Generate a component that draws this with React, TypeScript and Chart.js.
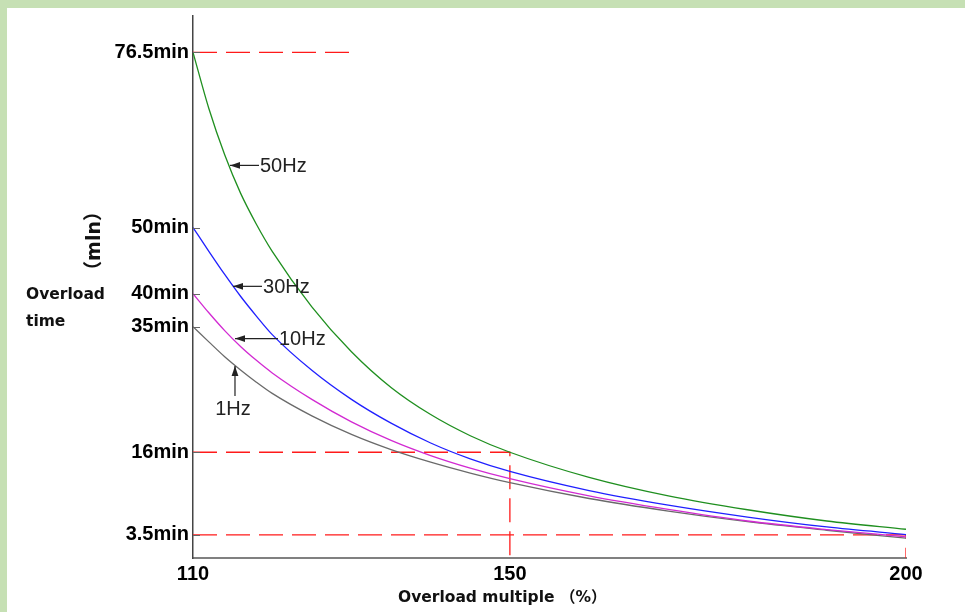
import React, { useEffect, useRef } from 'react';
import { Chart, registerables } from 'chart.js';

Chart.register(...registerables);

// ---- data ----
const overloadPct = [110, 112, 114, 116, 118, 120, 125, 130, 135, 140, 145, 150, 160, 170, 180, 190, 200];
const hz50 = [76.5, 68.0, 61.0, 55.2, 50.5, 46.4, 38.0, 31.2, 25.8, 21.7, 18.5, 16.0, 12.2, 9.4, 7.3, 5.6, 4.35];
const hz30 = [50, 46.4, 42.9, 39.6, 36.6, 33.8, 28.4, 24.0, 20.4, 17.4, 15.0, 13.1, 10.2, 8.0, 6.2, 4.7, 3.55];
const hz10 = [40, 37.1, 34.4, 32.0, 29.9, 28.0, 24.0, 20.6, 17.8, 15.5, 13.6, 12.0, 9.4, 7.35, 5.6, 4.3, 3.2];
const hz1 = [35, 32.7, 30.45, 28.45, 26.6, 24.9, 21.5, 18.7, 16.4, 14.5, 12.85, 11.4, 9.0, 7.1, 5.5, 4.2, 3.0];

const seriesNames = ['50Hz', '30Hz', '10Hz', '1Hz'];
const seriesColors = ['#1f8f1f', '#2020ff', '#d22ad2', '#6a6a6a'];

const yTicks = [3.5, 16, 35, 40, 50, 76.5];
const xTicks = [110, 150, 200];

// dashed reference lines: level, x where it ends, whether it drops to the axis
const refLevels = [76.5, 16, 3.5];
const refEnds = [130, 150, 200];
const refDrops = [false, true, true];

// annotation arrows: tip point (data units)
const annoX = [114.67, 115.05, 115.3, 115.3];
const annoY = [59.4, 41.1, 33.2, 29.2];

const SANS = '"Liberation Sans", Arial, sans-serif';
const TITLE = '"DejaVu Sans", "Noto Sans CJK SC", sans-serif';

function drawArrow(ctx: CanvasRenderingContext2D, tx: number, ty: number, hx: number, hy: number) {
  ctx.beginPath();
  ctx.moveTo(tx, ty);
  ctx.lineTo(hx, hy);
  ctx.stroke();
  const ang = Math.atan2(hy - ty, hx - tx);
  const len = 10;
  const w = 3.4;
  ctx.beginPath();
  ctx.moveTo(hx, hy);
  ctx.lineTo(hx - len * Math.cos(ang) + w * Math.sin(ang), hy - len * Math.sin(ang) - w * Math.cos(ang));
  ctx.lineTo(hx - len * Math.cos(ang) - w * Math.sin(ang), hy - len * Math.sin(ang) + w * Math.cos(ang));
  ctx.closePath();
  ctx.fill();
}

const decor = {
  id: 'decor',
  beforeDraw(chart: any) {
    const { ctx, width, height } = chart;
    ctx.save();
    ctx.fillStyle = '#c6e0b4';
    ctx.fillRect(0, 0, width, height);
    ctx.fillStyle = '#ffffff';
    ctx.fillRect(7, 8, width - 7, height - 8);
    ctx.restore();
  },
  afterDraw(chart: any) {
    const { ctx, chartArea } = chart;
    const xs = chart.scales.x;
    const ys = chart.scales.y;
    ctx.save();
    // inward tick marks on y axis
    ctx.strokeStyle = '#666';
    ctx.lineWidth = 1;
    yTicks.forEach((v) => {
      const py = Math.round(ys.getPixelForValue(v)) + 0.5;
      ctx.beginPath();
      ctx.moveTo(chartArea.left, py);
      ctx.lineTo(chartArea.left + 7, py);
      ctx.stroke();
    });
    // annotations
    ctx.strokeStyle = '#222';
    ctx.fillStyle = '#222';
    ctx.lineWidth = 1.2;
    ctx.font = `20px ${SANS}`;
    ctx.textBaseline = 'middle';
    seriesNames.forEach((name, i) => {
      const px = xs.getPixelForValue(annoX[i]);
      const py = ys.getPixelForValue(annoY[i]);
      if (i < 3) {
        const off = i === 2 ? 43 : 29;
        drawArrow(ctx, px + off, py, px, py);
        ctx.textAlign = 'left';
        ctx.fillText(name, px + off + 1, py + 1);
      } else {
        drawArrow(ctx, px, py + 31, px, py + 1);
        ctx.textAlign = 'center';
        ctx.fillText(name, px - 2, py + 44);
      }
    });
    // axis titles
    ctx.fillStyle = '#111';
    ctx.font = `bold 15.5px ${TITLE}`;
    ctx.textAlign = 'left';
    ctx.fillText('Overload', 26, 295);
    ctx.fillText('time', 26, 322);
    ctx.fillText('Overload multiple （%）', 398, 598);
    ctx.save();
    ctx.translate(95, 241);
    ctx.rotate(-Math.PI / 2);
    ctx.textAlign = 'center';
    ctx.font = `bold 19px ${TITLE}`;
    ctx.fillText('（mln）', 0, 0);
    ctx.restore();
    ctx.restore();
  },
};

export default function App() {
  const ref = useRef<HTMLCanvasElement | null>(null);

  useEffect(() => {
    document.body.style.margin = '0';
    const canvas = ref.current;
    if (!canvas) return;
    const curves = [hz50, hz30, hz10, hz1].map((arr, i) => ({
      label: seriesNames[i],
      data: arr.map((v, k) => ({ x: overloadPct[k], y: v })),
      borderColor: seriesColors[i],
      borderWidth: 1.3,
      pointRadius: 0,
      fill: false,
      cubicInterpolationMode: 'monotone' as const,
    }));
    const refs = refLevels.map((lv, i) => {
      const pts = [
        { x: overloadPct[0], y: lv },
        { x: refEnds[i], y: lv },
      ];
      if (refDrops[i]) pts.push({ x: refEnds[i], y: 0 });
      return {
        label: 'ref' + lv,
        data: pts,
        borderColor: '#ff1a1a',
        borderWidth: 1.3,
        borderDash: [24, 9],
        pointRadius: 0,
        fill: false,
        tension: 0,
      };
    });
    const chart = new Chart(canvas, {
      type: 'line',
      data: { datasets: [...curves, ...refs] as any },
      options: {
        animation: false,
        responsive: false,
        maintainAspectRatio: false,
        devicePixelRatio: 1,
        layout: { padding: { top: 14, right: 59, left: 0, bottom: 0 } },
        plugins: { legend: { display: false }, tooltip: { enabled: false } },
        elements: { point: { radius: 0 } },
        scales: {
          x: {
            type: 'linear',
            min: 110,
            max: 200,
            afterBuildTicks: (s: any) => {
              s.ticks = xTicks.map((v) => ({ value: v }));
            },
            afterFit: (s: any) => {
              s.height = 54;
            },
            grid: { display: false, drawTicks: false },
            border: { display: true, color: '#808080', width: 2 },
            ticks: {
              autoSkip: false,
              maxRotation: 0,
              padding: 4,
              color: '#000',
              font: { family: SANS, size: 20, weight: 'bold' },
            },
          },
          y: {
            type: 'linear',
            min: 0,
            max: 82,
            afterBuildTicks: (s: any) => {
              s.ticks = yTicks.map((v) => ({ value: v }));
            },
            afterFit: (s: any) => {
              s.width = 193;
            },
            grid: { display: false, drawTicks: false },
            border: { display: true, color: '#444', width: 1.5 },
            ticks: {
              autoSkip: false,
              padding: 4,
              color: '#000',
              font: { family: SANS, size: 20, weight: 'bold' },
              callback: (v: any) => `${v}min`,
            },
          },
        },
      },
      plugins: [decor],
    });
    return () => chart.destroy();
  }, []);

  return (
    <div style={{ width: 965, height: 612 }}>
      <canvas ref={ref} width={965} height={612} style={{ display: 'block' }} />
    </div>
  );
}
